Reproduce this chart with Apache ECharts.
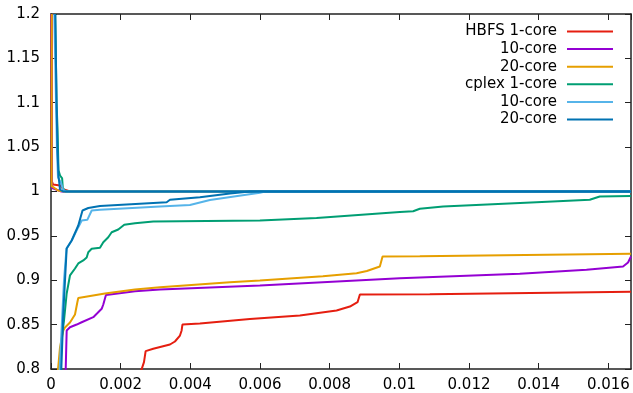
<!DOCTYPE html>
<html><head><meta charset="utf-8">
<script src="https://cdn.jsdelivr.net/npm/echarts@6/dist/echarts.min.js"></script>
<style>html,body{margin:0;padding:0;background:#fff}#c{width:633px;height:393px}</style>
</head><body><div id="c"></div>
<script>
// ---- data ----
const seriesNames = ["HBFS 1-core", "HBFS 10-core", "HBFS 20-core", "cplex 1-core", "cplex 10-core", "cplex 20-core"];
const legendLabels = ["HBFS 1-core", "10-core", "20-core", "cplex 1-core", "10-core", "20-core"];
const seriesColors = ["#e51e10", "#9400d3", "#e69f00", "#009e73", "#56b4e9", "#0072b2"];
const xTickMax = 0.01665;

const hbfs1Upper = [[0.00002,1.2],[0.00002,1.012],[0.00006,1.0079],[0.00026,1.0068],[0.00037,1.0023],[0.00055,1.0],[0.01665,1.0]];
const hbfs1Lower = [[0.00252,0.79],[0.002669,0.8077],[0.002717,0.8201],[0.002935,0.8228],[0.003415,0.8276],[0.003558,0.8310],[0.003702,0.8377],[0.00375,0.8434],[0.003773,0.8501],[0.004275,0.8513],[0.00571,0.8563],[0.007145,0.8603],[0.008198,0.8659],[0.00858,0.8704],[0.0088,0.8753],[0.008867,0.8839],[0.010875,0.8842],[0.01665,0.8870]];
const hbfs10Upper = [[0.00001,1.2],[0.00003,1.004],[0.0003,1.0],[0.01665,1.0]];
const hbfs10Lower = [[0.000416,0.79],[0.00045,0.8434],[0.000545,0.8471],[0.000737,0.8501],[0.000881,0.8527],[0.001214,0.8584],[0.00132,0.8625],[0.001455,0.8678],[0.001501,0.8727],[0.001549,0.8794],[0.001578,0.8834],[0.001693,0.8839],[0.00241,0.8877],[0.003128,0.8896],[0.005997,0.8941],[0.010014,0.9023],[0.013457,0.9073],[0.015372,0.9118],[0.016422,0.9155],[0.016565,0.92],[0.01665,0.9268]];
const hbfs20Upper = [[0.00002,1.2],[0.00002,1.006],[0.00006,1.0045],[0.0002,1.0011],[0.0004,1.0],[0.01665,1.0]];
const hbfs20Lower = [[0.00018,0.79],[0.000258,0.8242],[0.000353,0.8434],[0.000402,0.8468],[0.000545,0.8524],[0.000689,0.8614],[0.000755,0.8749],[0.000783,0.88],[0.001549,0.8851],[0.00241,0.8896],[0.003128,0.8922],[0.005136,0.8978],[0.005997,0.8997],[0.007805,0.9046],[0.008772,0.9079],[0.009067,0.9104],[0.00944,0.9155],[0.009518,0.9268],[0.010588,0.9271],[0.01665,0.9298]];
const cplex1Upper = [[0.00012,1.2],[0.00016,1.1],[0.000187,1.071],[0.000215,1.024],[0.00026,1.018],[0.00032,1.0147],[0.00034,1.0034],[0.00043,1.0],[0.01665,1.0]];
const cplex1Lower = [[0.000258,0.79],[0.000316,0.8377],[0.000373,0.8546],[0.00045,0.8851],[0.000545,0.9054],[0.000689,0.9132],[0.000783,0.9189],[0.000927,0.9223],[0.001024,0.9256],[0.00107,0.9316],[0.001168,0.9354],[0.001406,0.9366],[0.001501,0.9429],[0.001644,0.9485],[0.001742,0.9541],[0.001931,0.9572],[0.002103,0.9625],[0.00241,0.9643],[0.002935,0.9662],[0.005997,0.9673],[0.007624,0.9701],[0.010014,0.9769],[0.010396,0.9778],[0.010588,0.9805],[0.011257,0.9831],[0.013937,0.9879],[0.015466,0.9907],[0.015753,0.9944],[0.01665,0.9949]];
const cplex10Upper = [[0.0000947,1.2],[0.000143,1.1025],[0.000172,1.0462],[0.000201,1.0158],[0.000287,1.0101],[0.000344,1.0023],[0.00043,1.0],[0.01665,1.0]];
const cplex10Lower = [[0.000238,0.79],[0.000316,0.8546],[0.000373,0.8997],[0.000445,0.9358],[0.000594,0.9448],[0.000783,0.9598],[0.000881,0.9673],[0.001042,0.9681],[0.001168,0.9786],[0.001406,0.9794],[0.003128,0.9831],[0.003988,0.9848],[0.004562,0.9904],[0.005997,0.9985],[0.006141,1.0],[0.01665,1.0]];
const cplex20Upper = [[0.000123,1.2],[0.000158,1.1025],[0.000187,1.0462],[0.000215,1.018],[0.000258,1.0023],[0.000344,1.0],[0.01665,1.0]];
const cplex20Lower = [[0.000287,0.79],[0.000353,0.8625],[0.00045,0.9358],[0.000594,0.9448],[0.000783,0.9617],[0.000904,0.9786],[0.00107,0.9814],[0.001406,0.9837],[0.00332,0.9879],[0.003415,0.9907],[0.004275,0.9936],[0.005136,0.9978],[0.00571,1.0],[0.01665,1.0]];

const branches = [
  [hbfs1Upper, hbfs1Lower], [hbfs10Upper, hbfs10Lower], [hbfs20Upper, hbfs20Lower],
  [cplex1Upper, cplex1Lower], [cplex10Upper, cplex10Lower], [cplex20Upper, cplex20Lower]
];

// ---- chart ----
const FONT = 'DejaVu Sans';
const AX = '#222';
const series = [];
branches.forEach((b, i) => {
  b.forEach(d => series.push({
    name: seriesNames[i], type: 'line', data: d, symbol: 'none', showSymbol: false,
    xAxisIndex: 0, yAxisIndex: 0, clip: true,
    lineStyle: { color: seriesColors[i], width: 2 }, itemStyle: { color: seriesColors[i] },
    emphasis: { disabled: true }, silent: true
  }));
});

const chart = echarts.init(document.getElementById('c'), null, { renderer: 'canvas' });
chart.setOption({
  animation: false,
  backgroundColor: '#fff',
  grid: { left: 51, right: 2, top: 14, bottom: 24, containLabel: false },
  legend: {
    data: seriesNames, orient: 'vertical', align: 'right', right: 20, top: 24, padding: 0,
    icon: 'rect', itemWidth: 46, itemHeight: 2, itemGap: 2.6,
    formatter: n => legendLabels[seriesNames.indexOf(n)],
    textStyle: { fontFamily: FONT, fontSize: 15, color: '#000', lineHeight: 15, padding: [0, 5, 0, 0] },
    selectedMode: false
  },
  xAxis: [
    { type: 'value', min: 0, max: xTickMax, interval: 0.002, position: 'bottom',
      axisLine: { show: true, onZero: false, lineStyle: { color: AX, width: 1.5 } },
      axisTick: { show: true, inside: true, length: 6, lineStyle: { color: AX } },
      axisLabel: { showMaxLabel: false, margin: 9, fontFamily: FONT, fontSize: 15, color: '#000' },
      splitLine: { show: false } },
    { type: 'value', min: 0, max: xTickMax, interval: 0.002, position: 'top',
      axisLine: { show: true, onZero: false, lineStyle: { color: AX, width: 1.5 } },
      axisTick: { show: true, inside: true, length: 6, lineStyle: { color: AX } },
      axisLabel: { show: false }, splitLine: { show: false } }
  ],
  yAxis: [
    { type: 'value', min: 0.8, max: 1.2, interval: 0.05, position: 'left',
      axisLine: { show: true, onZero: false, lineStyle: { color: AX, width: 1.5 } },
      axisTick: { show: true, inside: true, length: 6, lineStyle: { color: AX } },
      axisLabel: { margin: 11, fontFamily: FONT, fontSize: 15, color: '#000' },
      splitLine: { show: false } },
    { type: 'value', min: 0.8, max: 1.2, interval: 0.05, position: 'right',
      axisLine: { show: true, onZero: false, lineStyle: { color: AX, width: 1.5 } },
      axisTick: { show: true, inside: true, length: 6, lineStyle: { color: AX } },
      axisLabel: { show: false }, splitLine: { show: false } }
  ],
  series: series
});
</script></body></html>
